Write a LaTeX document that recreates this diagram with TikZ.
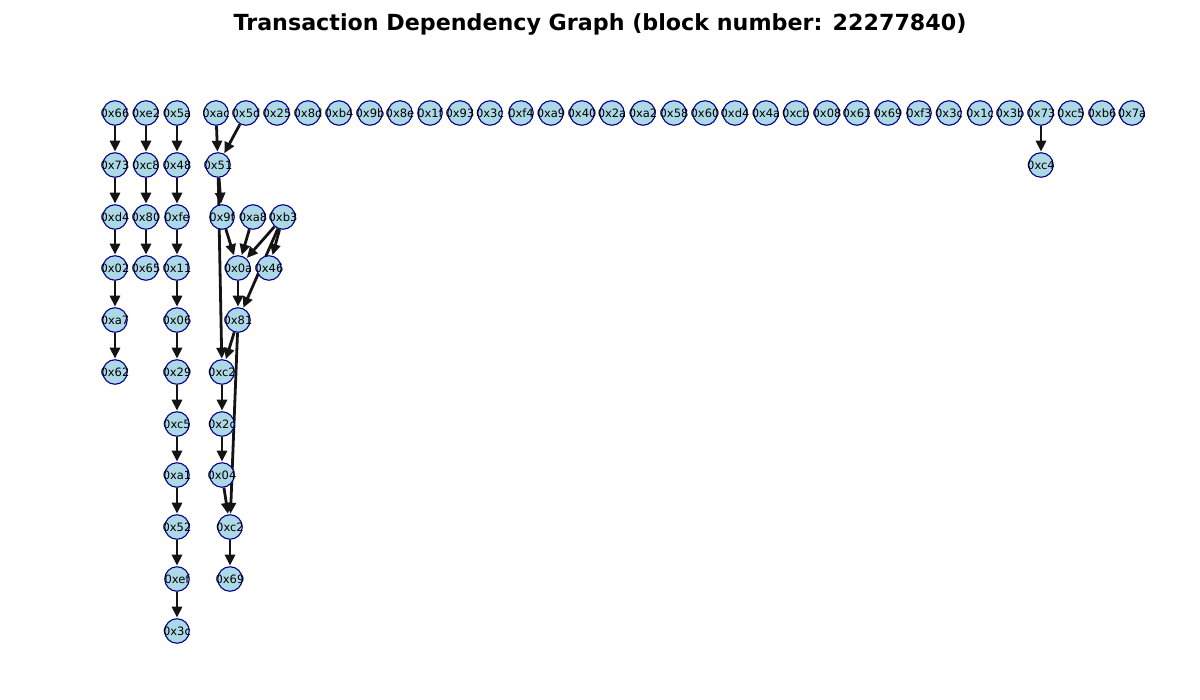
\documentclass[tikz,border=0pt]{standalone}
\usepackage{fontspec}
\newfontfamily\dv{DejaVu Sans}
\usetikzlibrary{arrows.meta,backgrounds}
\definecolor{lb}{RGB}{173,216,230}
\definecolor{nv}{RGB}{0,0,139}
\tikzset{
  tx/.style={circle, draw=nv, fill=lb, line width=1.1pt, minimum size=24.5pt, inner sep=0pt, font=\fontsize{11.5}{11.5}\dv},
  ed/.style={-{Triangle[length=11pt,width=10pt]}, line width=2.8pt, draw=black!92, shorten >=0.5pt}
}
\newcommand{\nd}[4]{\node[tx] (#1) at (#2,#3) {\makebox[0pt]{#4}};}
\begin{document}
\begin{tikzpicture}[x=1pt,y=-1pt]
\useasboundingbox (0,0) rectangle (1200,700);
\node at (600,24) {\fontsize{22.2}{22.2}\dv\bfseries Transaction Dependency Graph (block number: 22277840)};
% column 1
\nd{a1}{115}{113}{0x66}
\nd{a2}{115}{165}{0x73}
\nd{a3}{115}{217}{0xd4}
\nd{a4}{115}{268}{0x02}
\nd{a5}{115}{320}{0xa7}
\nd{a6}{115}{372}{0x62}
% column 2
\nd{b1}{146}{113}{0xe2}
\nd{b2}{146}{165}{0xc8}
\nd{b3}{146}{217}{0x80}
\nd{b4}{146}{268}{0x65}
% column 3
\nd{c1}{177}{113}{0x5a}
\nd{c2}{177}{165}{0x48}
\nd{c3}{177}{217}{0xfe}
\nd{c4}{177}{268}{0x11}
\nd{c5}{177}{320}{0x06}
\nd{c6}{177}{372}{0x29}
\nd{c7}{177}{424}{0xc5}
\nd{c8}{177}{475}{0xa1}
\nd{c9}{177}{527}{0x52}
\nd{c10}{177}{579}{0xef}
\nd{c11}{177}{631}{0x3c}
% cluster
\nd{ac}{216}{113}{0xac}
\nd{d5d}{246}{113}{0x5d}
\nd{d51}{218}{165}{0x51}
\nd{d9f}{222}{217}{0x9f}
\nd{da8}{253}{217}{0xa8}
\nd{db3}{283}{217}{0xb3}
\nd{d0a}{238}{268}{0x0a}
\nd{d46}{269}{268}{0x46}
\nd{d81}{238}{320}{0x81}
\nd{dc2}{222}{372}{0xc2}
\nd{d2c}{222}{424}{0x2c}
\nd{d04}{222}{475}{0x04}
\nd{ec2}{230}{527}{0xc2}
\nd{e69}{230}{579}{0x69}
% top row
\nd{t1}{277}{113}{0x25}
\nd{t2}{308}{113}{0x8d}
\nd{t3}{339}{113}{0xb4}
\nd{t4}{370}{113}{0x9b}
\nd{t5}{400}{113}{0x8e}
\nd{t6}{430}{113}{0x1f}
\nd{t7}{460}{113}{0x93}
\nd{t8}{490}{113}{0x3c}
\nd{t9}{521}{113}{0xf4}
\nd{t10}{551}{113}{0xa9}
\nd{t11}{582}{113}{0x40}
\nd{t12}{612}{113}{0x2a}
\nd{t13}{643}{113}{0xa2}
\nd{t14}{674}{113}{0x58}
\nd{t15}{705}{113}{0x60}
\nd{t16}{735}{113}{0xd4}
\nd{t17}{766}{113}{0x4a}
\nd{t18}{796}{113}{0xcb}
\nd{t19}{827}{113}{0x08}
\nd{t20}{857}{113}{0x61}
\nd{t21}{888}{113}{0x69}
\nd{t22}{919}{113}{0xf3}
\nd{t23}{949}{113}{0x3c}
\nd{t24}{980}{113}{0x1c}
\nd{t25}{1010}{113}{0x3b}
\nd{t26}{1041}{113}{0x73}
\nd{t27}{1071}{113}{0xc5}
\nd{t28}{1102}{113}{0xb6}
\nd{t29}{1132}{113}{0x7a}
\nd{u1}{1041}{165}{0xc4}
\begin{scope}[on background layer]
\draw[ed] (a1) -- (a2);
\draw[ed] (a2) -- (a3);
\draw[ed] (a3) -- (a4);
\draw[ed] (a4) -- (a5);
\draw[ed] (a5) -- (a6);
\draw[ed] (b1) -- (b2);
\draw[ed] (b2) -- (b3);
\draw[ed] (b3) -- (b4);
\draw[ed] (c1) -- (c2);
\draw[ed] (c2) -- (c3);
\draw[ed] (c3) -- (c4);
\draw[ed] (c4) -- (c5);
\draw[ed] (c5) -- (c6);
\draw[ed] (c6) -- (c7);
\draw[ed] (c7) -- (c8);
\draw[ed] (c8) -- (c9);
\draw[ed] (c9) -- (c10);
\draw[ed] (c10) -- (c11);
\draw[ed] (ac) -- (d51);
\draw[ed] (d5d) -- (d51);
\draw[ed] (d51) -- (d9f);
\draw[ed] (d51) -- (dc2);
\draw[ed] (d9f) -- (d0a);
\draw[ed] (da8) -- (d0a);
\draw[ed] (db3) -- (d0a);
\draw[ed] (db3) -- (d46);
\draw[ed] (db3) -- (d81);
\draw[ed] (d0a) -- (d81);
\draw[ed] (d81) -- (dc2);
\draw[ed] (d81) -- (ec2);
\draw[ed] (dc2) -- (d2c);
\draw[ed] (d2c) -- (d04);
\draw[ed] (d04) -- (ec2);
\draw[ed] (ec2) -- (e69);
\draw[ed] (t26) -- (u1);
\end{scope}
\end{tikzpicture}
\end{document}
